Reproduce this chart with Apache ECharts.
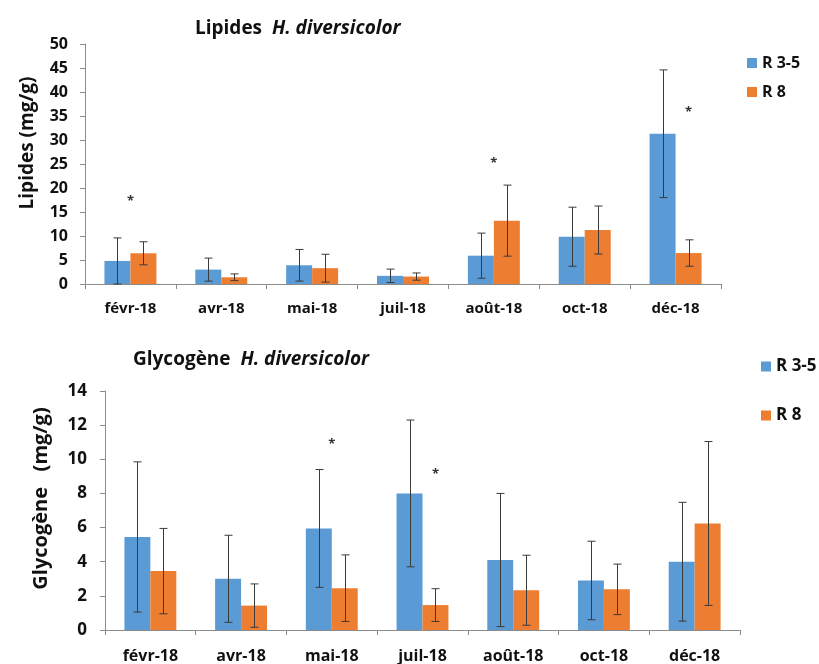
<!DOCTYPE html>
<html>
<head>
<meta charset="utf-8">
<script src="https://cdn.jsdelivr.net/npm/echarts@6/dist/echarts.min.js"></script>
<style>html,body{margin:0;padding:0;background:#fff;}#c{width:819px;height:664px;}</style>
</head>
<body>
<div id="c"></div>
<script>
// ---- data ----
var categories = ['févr-18', 'avr-18', 'mai-18', 'juil-18', 'août-18', 'oct-18', 'déc-18'];
var seriesNames = ['R 3-5', 'R 8'];

var lipidesR35 = [4.8, 3.0, 3.9, 1.7, 5.9, 9.85, 31.3];
var lipidesR35Sd = [4.8, 2.4, 3.3, 1.4, 4.7, 6.15, 13.3];
var lipidesR8 = [6.4, 1.4, 3.3, 1.55, 13.2, 11.25, 6.45];
var lipidesR8Sd = [2.4, 0.7, 2.9, 0.75, 7.4, 5.0, 2.75];
// significance stars: [category index, value, series (-1 R 3-5, 0 centre, 1 R 8)]
var lipidesStars = [[0, 18.0, 0], [4, 26.0, 0], [6, 36.7, 1]];
var lipidesTicks = [0, 5, 10, 15, 20, 25, 30, 35, 40, 45, 50];

var glycoR35 = [5.45, 3.0, 5.95, 8.0, 4.1, 2.9, 4.0];
var glycoR35Sd = [4.4, 2.55, 3.45, 4.3, 3.9, 2.3, 3.48];
var glycoR8 = [3.45, 1.43, 2.45, 1.46, 2.33, 2.38, 6.24];
var glycoR8Sd = [2.5, 1.27, 1.95, 0.96, 2.05, 1.48, 4.8];
var glycoStars = [[2, 11.1, 0], [3, 9.35, 1]];
var glycoTicks = [0, 2, 4, 6, 8, 10, 12, 14];

// ---- styles ----
var BLUE = '#5B9BD5', ORANGE = '#ED7D31';
var FONT = 'Open Sans';
var AXIS_COL = '#8c8c8c';
var BAR_FRAC = 0.286;

function errData(means, sds) {
  return means.map(function (m, i) { return [i, m, sds[i]]; });
}
function errSeries(means, sds, side, gi) {
  return {
    type: 'custom', xAxisIndex: gi, yAxisIndex: gi, silent: true, z: 5,
    data: errData(means, sds),
    renderItem: function (params, api) {
      var c = api.value(0), m = api.value(1), s = api.value(2);
      var band = api.size([1, 0])[0];
      var off = side * band * BAR_FRAC / 2;
      var top = api.coord([c, m + s]);
      var bot = api.coord([c, Math.max(0, m - s)]);
      var x = Math.round(top[0] + off) + 0.5;
      var st = { stroke: '#3a3a3a', lineWidth: 1 };
      return { type: 'group', children: [
        { type: 'line', shape: { x1: x, y1: top[1], x2: x, y2: bot[1] }, style: st },
        { type: 'line', shape: { x1: x - 4, y1: top[1], x2: x + 4, y2: top[1] }, style: st },
        { type: 'line', shape: { x1: x - 4, y1: bot[1], x2: x + 4, y2: bot[1] }, style: st }
      ] };
    }
  };
}
function starSeries(stars, gi) {
  return {
    type: 'custom', xAxisIndex: gi, yAxisIndex: gi, silent: true, z: 6,
    data: stars,
    renderItem: function (params, api) {
      var c = api.value(0), v = api.value(1), side = api.value(2);
      var band = api.size([1, 0])[0];
      var p = api.coord([c, v]);
      return { type: 'text', style: { text: '*', x: p[0] + side * band * BAR_FRAC / 2, y: p[1] + 4,
        fill: '#333', font: 'bold 13px "' + FONT + '"', textAlign: 'center', textVerticalAlign: 'middle' } };
    }
  };
}
function barSeries(name, vals, color, gi) {
  return { type: 'bar', name: name, xAxisIndex: gi, yAxisIndex: gi, data: vals,
    barWidth: (BAR_FRAC * 100) + '%', barGap: '0%', itemStyle: { color: color }, silent: true };
}
function xAxis(gi, fs, margin) {
  return { type: 'category', gridIndex: gi, data: categories,
    axisLine: { lineStyle: { color: AXIS_COL, width: 1 } },
    axisTick: { show: true, length: 5, lineStyle: { color: AXIS_COL } },
    axisLabel: { color: '#111', fontFamily: FONT, fontWeight: 'bold', fontSize: fs, margin: margin, interval: 0 } };
}
function yAxis(gi, ticks, name, fs, nfs, gap, pad, margin) {
  return { type: 'value', gridIndex: gi, min: ticks[0], max: ticks[ticks.length - 1],
    interval: ticks[1] - ticks[0],
    name: name, nameLocation: 'middle', nameGap: gap,
    nameTextStyle: { color: '#111', fontFamily: FONT, fontWeight: 'bold', fontSize: nfs, padding: [0, 0, 0, pad] },
    axisLine: { show: true, lineStyle: { color: AXIS_COL, width: 1 } },
    axisTick: { show: true, length: 5, lineStyle: { color: AXIS_COL } },
    splitLine: { show: false },
    axisLabel: { color: '#111', fontFamily: FONT, fontWeight: 'bold', fontSize: fs, margin: margin } };
}

var chart = echarts.init(document.getElementById('c'), null, { renderer: 'canvas' });
chart.setOption({
  animation: false,
  backgroundColor: '#fff',
  title: [
    { text: '{b|Lipides  }{i|H. diversicolor}', left: 195, top: 19, padding: 0,
      textStyle: { rich: {
        b: { fontFamily: FONT, fontWeight: 'bold', fontSize: 19, color: '#111' },
        i: { fontFamily: FONT, fontWeight: 'bold', fontStyle: 'italic', fontSize: 19, color: '#111' } } } },
    { text: '{b|Glycogène  }{i|H. diversicolor}', left: 133, top: 350, padding: 0,
      textStyle: { rich: {
        b: { fontFamily: FONT, fontWeight: 'bold', fontSize: 19, color: '#111' },
        i: { fontFamily: FONT, fontWeight: 'bold', fontStyle: 'italic', fontSize: 19, color: '#111' } } } }
  ],
  legend: [
    { data: seriesNames, orient: 'vertical', left: 747, top: 55, padding: 0, itemWidth: 10, itemHeight: 10, itemGap: 13,
      icon: 'rect', selectedMode: false,
      textStyle: { fontFamily: FONT, fontWeight: 'bold', fontSize: 16, color: '#111', lineHeight: 16 } },
    { data: seriesNames, orient: 'vertical', left: 761, top: 358, padding: 0, itemWidth: 10, itemHeight: 10, itemGap: 32,
      icon: 'rect', selectedMode: false,
      textStyle: { fontFamily: FONT, fontWeight: 'bold', fontSize: 17, color: '#111', lineHeight: 16 } }
  ],
  grid: [
    { left: 85, right: 98, top: 44, bottom: 380, containLabel: false },
    { left: 105, right: 79, top: 391, bottom: 33, containLabel: false }
  ],
  xAxis: [xAxis(0, 15, 17), xAxis(1, 16, 18)],
  yAxis: [
    yAxis(0, lipidesTicks, 'Lipides (mg/g)', 16, 19, 48, 42, 17),
    yAxis(1, glycoTicks, 'Glycogène   (mg/g)', 17, 20, 54, 24, 18)
  ],
  series: [
    barSeries(seriesNames[0], lipidesR35, BLUE, 0),
    barSeries(seriesNames[1], lipidesR8, ORANGE, 0),
    errSeries(lipidesR35, lipidesR35Sd, -1, 0),
    errSeries(lipidesR8, lipidesR8Sd, 1, 0),
    starSeries(lipidesStars, 0),
    barSeries(seriesNames[0], glycoR35, BLUE, 1),
    barSeries(seriesNames[1], glycoR8, ORANGE, 1),
    errSeries(glycoR35, glycoR35Sd, -1, 1),
    errSeries(glycoR8, glycoR8Sd, 1, 1),
    starSeries(glycoStars, 1)
  ]
});
</script>
</body>
</html>
